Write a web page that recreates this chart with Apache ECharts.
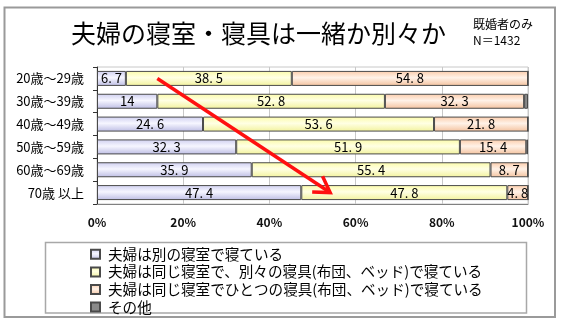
<!DOCTYPE html>
<html>
<head>
<meta charset="utf-8">
<script src="https://cdn.jsdelivr.net/npm/echarts@6/dist/echarts.min.js"></script>
<style>
  html, body { margin: 0; padding: 0; background: #fff; }
  #chart { width: 563px; height: 323px; }
</style>
</head>
<body>
<div id="chart"></div>
<script>
// Age groups (top to bottom)
const ageGroups = ['20歳～29歳', '30歳～39歳', '40歳～49歳', '50歳～59歳', '60歳～69歳', '70歳 以上'];

// Share of each sleeping arrangement, percent
const separateRooms = [6.7, 14, 24.6, 32.3, 35.9, 47.4];
const sameRoomSeparateBeds = [38.5, 52.8, 53.6, 51.9, 55.4, 47.8];
const sameRoomSameBed = [54.8, 32.3, 21.8, 15.4, 8.7, 4.8];
const otherAnswers = [0, 0.9, 0, 0.4, 0, 0];

const seriesNames = [
  '夫婦は別の寝室で寝ている',
  '夫婦は同じ寝室で、別々の寝具(布団、ベッド)で寝ている',
  '夫婦は同じ寝室でひとつの寝具(布団、ベッド)で寝ている',
  'その他'
];

const xTicks = [0, 20, 40, 60, 80, 100];

// Trend arrow, in data units [percent, category index]
const trendArrow = { from: [14, -0.33], to: [54.1, 5.24] };

const FONT = '"Noto Sans CJK JP", "Noto Sans", sans-serif';

function vGrad(top, mid, bottom) {
  return {
    type: 'linear', x: 0, y: 0, x2: 0, y2: 1,
    colorStops: [
      { offset: 0, color: top },
      { offset: 0.45, color: mid },
      { offset: 1, color: bottom }
    ]
  };
}

const fills = [
  vGrad('#cfcff0', '#f6f6ff', '#bdbde4'),
  vGrad('#fbfba8', '#ffffe4', '#f2f29c'),
  vGrad('#fcccaa', '#fff2e8', '#f4c29e'),
  '#8a8a8a'
];

const valueSets = [separateRooms, sameRoomSeparateBeds, sameRoomSameBed, otherAnswers];

const series = valueSets.map(function (vals, i) {
  return {
    name: seriesNames[i],
    type: 'bar',
    stack: 'total',
    barWidth: 15,
    data: vals,
    itemStyle: { color: fills[i], borderColor: '#4a4a4a', borderWidth: 1 },
    emphasis: { disabled: true },
    label: {
      show: i < 3,
      position: 'inside',
      color: '#000',
      fontFamily: FONT,
      fontSize: 13,
      formatter: function (p) { return String(p.value).replace('.', '. '); }
    }
  };
});

const chart = echarts.init(document.getElementById('chart'), null, { renderer: 'canvas' });

chart.setOption({
  animation: false,
  backgroundColor: '#fff',
  title: [
    {
      text: '夫婦の寝室・寝具は一緒か別々か',
      left: 66, top: 16,
      textStyle: { fontFamily: FONT, fontSize: 25, fontWeight: 'normal', color: '#000' }
    },
    {
      text: '既婚者のみ\nN＝1432',
      left: 468, top: 11,
      textStyle: { fontFamily: FONT, fontSize: 12, fontWeight: 'normal', color: '#000', lineHeight: 16 }
    }
  ],
  grid: {
    left: 97, right: 35, top: 67, bottom: 119,
    show: true, borderColor: '#c8c8c8', borderWidth: 1
  },
  xAxis: {
    type: 'value', min: 0, max: 100, interval: 20,
    axisLine: { show: true, lineStyle: { color: '#808080' } },
    axisTick: { show: false },
    splitLine: { show: true, lineStyle: { color: '#c8c8c8' } },
    axisLabel: {
      margin: 12,
      fontFamily: FONT, fontSize: 12, fontWeight: 'bold', color: '#111',
      formatter: function (v) { return xTicks.indexOf(v) >= 0 ? v + '%' : ''; }
    }
  },
  yAxis: {
    type: 'category', inverse: true, data: ageGroups,
    axisLine: { show: true, lineStyle: { color: '#333' } },
    axisTick: { show: true, length: 4, lineStyle: { color: '#333' } },
    axisLabel: { margin: 13, fontFamily: FONT, fontSize: 13, color: '#000' }
  },
  legend: {
    orient: 'vertical', left: 85, top: 242,
    itemWidth: 9, itemHeight: 9, itemGap: 3, icon: 'rect',
    selectedMode: false,
    textStyle: { fontFamily: FONT, fontSize: 14.6, color: '#000', lineHeight: 14.5, padding: [0, 0, 0, 3] },
    data: seriesNames
  },
  series: series
});

// Frame, legend box and trend arrow
const p0 = chart.convertToPixel({ gridIndex: 0 }, trendArrow.from);
const p1 = chart.convertToPixel({ gridIndex: 0 }, trendArrow.to);
const ang = Math.atan2(p1[1] - p0[1], p1[0] - p0[0]);
const headLen = 18, headSpread = 0.55;
const h1 = [p1[0] - headLen * Math.cos(ang - headSpread), p1[1] - headLen * Math.sin(ang - headSpread)];
const h2 = [p1[0] - headLen * Math.cos(ang + headSpread), p1[1] - headLen * Math.sin(ang + headSpread)];

chart.setOption({
  graphic: [
    {
      type: 'rect', z: -10, silent: true,
      shape: { x: 4.5, y: 7.5, width: 550.5, height: 309.5 },
      style: { fill: 'none', stroke: '#9a9a9a', lineWidth: 2 }
    },
    {
      type: 'rect', z: -10, silent: true,
      shape: { x: 45.5, y: 242.5, width: 481, height: 70.5 },
      style: { fill: 'none', stroke: '#a8a8a8', lineWidth: 1.5 }
    },
    {
      type: 'polyline', z: 100, silent: true,
      shape: { points: [p0, p1] },
      style: { stroke: '#ff1010', lineWidth: 3.5, fill: 'none' }
    },
    {
      type: 'polyline', z: 100, silent: true,
      shape: { points: [h1, p1, h2] },
      style: { stroke: '#ff1010', lineWidth: 3.5, fill: 'none', lineJoin: 'miter' }
    }
  ]
});
</script>
</body>
</html>
